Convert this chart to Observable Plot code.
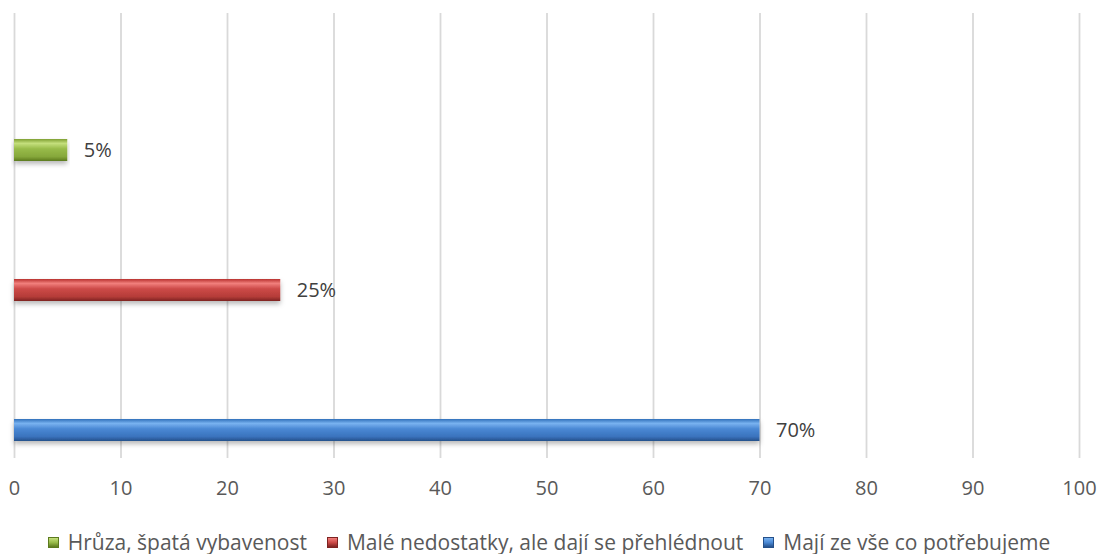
<!DOCTYPE html>
<html>
<head>
<meta charset="utf-8">
<script src="https://cdn.jsdelivr.net/npm/d3@7"></script>
<script src="https://cdn.jsdelivr.net/npm/@observablehq/plot@0.6"></script>
<style>
  html, body { margin: 0; padding: 0; background: #fff; }
  #chart { width: 1098px; height: 515px; }
  #legend { display: flex; justify-content: center; align-items: center; gap: 20px;
    font-family: "Open Sans", "Noto Sans", sans-serif; font-size: 21px; line-height: 29px; color: #595959;
    margin-top: 13px; }
  .item { display: flex; align-items: center; gap: 9px; }
  .sw { width: 11px; height: 11px; display: inline-block; }
</style>
</head>
<body>
<div id="chart"></div>
<script>
// ---- data ----
const categories = ["Hrůza, špatá vybavenost", "Malé nedostatky, ale dají se přehlédnout", "Mají ze vše co potřebujeme"];
const values = [5, 25, 70];
const labels = ["5%", "25%", "70%"];
const xTicks = [0, 10, 20, 30, 40, 50, 60, 70, 80, 90, 100];

// ---- styles ----
const gradIds = ["gGreen", "gRed", "gBlue"];
const gradStops = {
  gGreen: ["#7f9f32", "#c4df7c", "#98bb4a", "#86a83b", "#5c7a1e"],
  gRed:   ["#b8312e", "#f17f7c", "#cc4a47", "#b53c39", "#7e2321"],
  gBlue:  ["#3170ba", "#78b2f0", "#4a88d4", "#3a73bd", "#25508a"]
};
const data = categories.map((c, i) => ({cat: c, value: values[i], label: labels[i], fill: `url(#${gradIds[i]})`}));

const chart = Plot.plot({
  width: 1098,
  height: 515,
  marginTop: 13,
  marginBottom: 57,
  marginLeft: 14,
  marginRight: 19,
  style: {fontFamily: "'Open Sans', 'Noto Sans', sans-serif", background: "#fff"},
  x: {domain: [0, 100], ticks: xTicks, label: null},
  y: {type: "band", domain: categories, range: [80, 500], paddingInner: 0.843, paddingOuter: 0.4215, axis: null},
  color: {type: "identity"},
  marks: [
    Plot.ruleX(xTicks, {stroke: "#d9d9d9", strokeWidth: 1.8}),
    Plot.barX(data, {x: "value", y: "cat", fill: "fill"}),
    Plot.text(data, {x: "value", y: "cat", text: "label", textAnchor: "start", dx: 16, fontSize: 20, fill: "#404040"}),
    Plot.axisX({ticks: xTicks, tickSize: 0, tickPadding: 22, fontSize: 20, color: "#595959", label: null})
  ]
});
document.getElementById("chart").appendChild(chart);

// gradient defs
const svg = d3.select(chart);
const defs = svg.insert("defs", ":first-child");
const f = defs.append("filter").attr("id", "shadow").attr("x", "-5%").attr("y", "-30%").attr("width", "110%").attr("height", "200%");
f.append("feDropShadow").attr("dx", 0).attr("dy", 3).attr("stdDeviation", 2.5).attr("flood-color", "#000").attr("flood-opacity", 0.28);
for (const id of gradIds) {
  const s = gradStops[id];
  const g = defs.append("linearGradient").attr("id", id).attr("x1", 0).attr("y1", 0).attr("x2", 0).attr("y2", 1);
  [[0, s[0]], [0.2, s[1]], [0.45, s[2]], [0.8, s[3]], [1, s[4]]].forEach(([o, c]) =>
    g.append("stop").attr("offset", o).attr("stop-color", c));
}
svg.selectAll("g[aria-label='bar'] rect").attr("filter", "url(#shadow)");

// legend
const legend = document.createElement("div");
legend.id = "legend";
categories.forEach((c, i) => {
  const it = document.createElement("div");
  it.className = "item";
  const s = gradStops[gradIds[i]];
  it.innerHTML = `<span class="sw" style="background: linear-gradient(${s[1]}, ${s[2]} 50%, ${s[4]}); border:1px solid ${s[4]}; box-sizing:border-box"></span><span>${c}</span>`;
  legend.appendChild(it);
});
document.body.appendChild(legend);
</script>
</body>
</html>
